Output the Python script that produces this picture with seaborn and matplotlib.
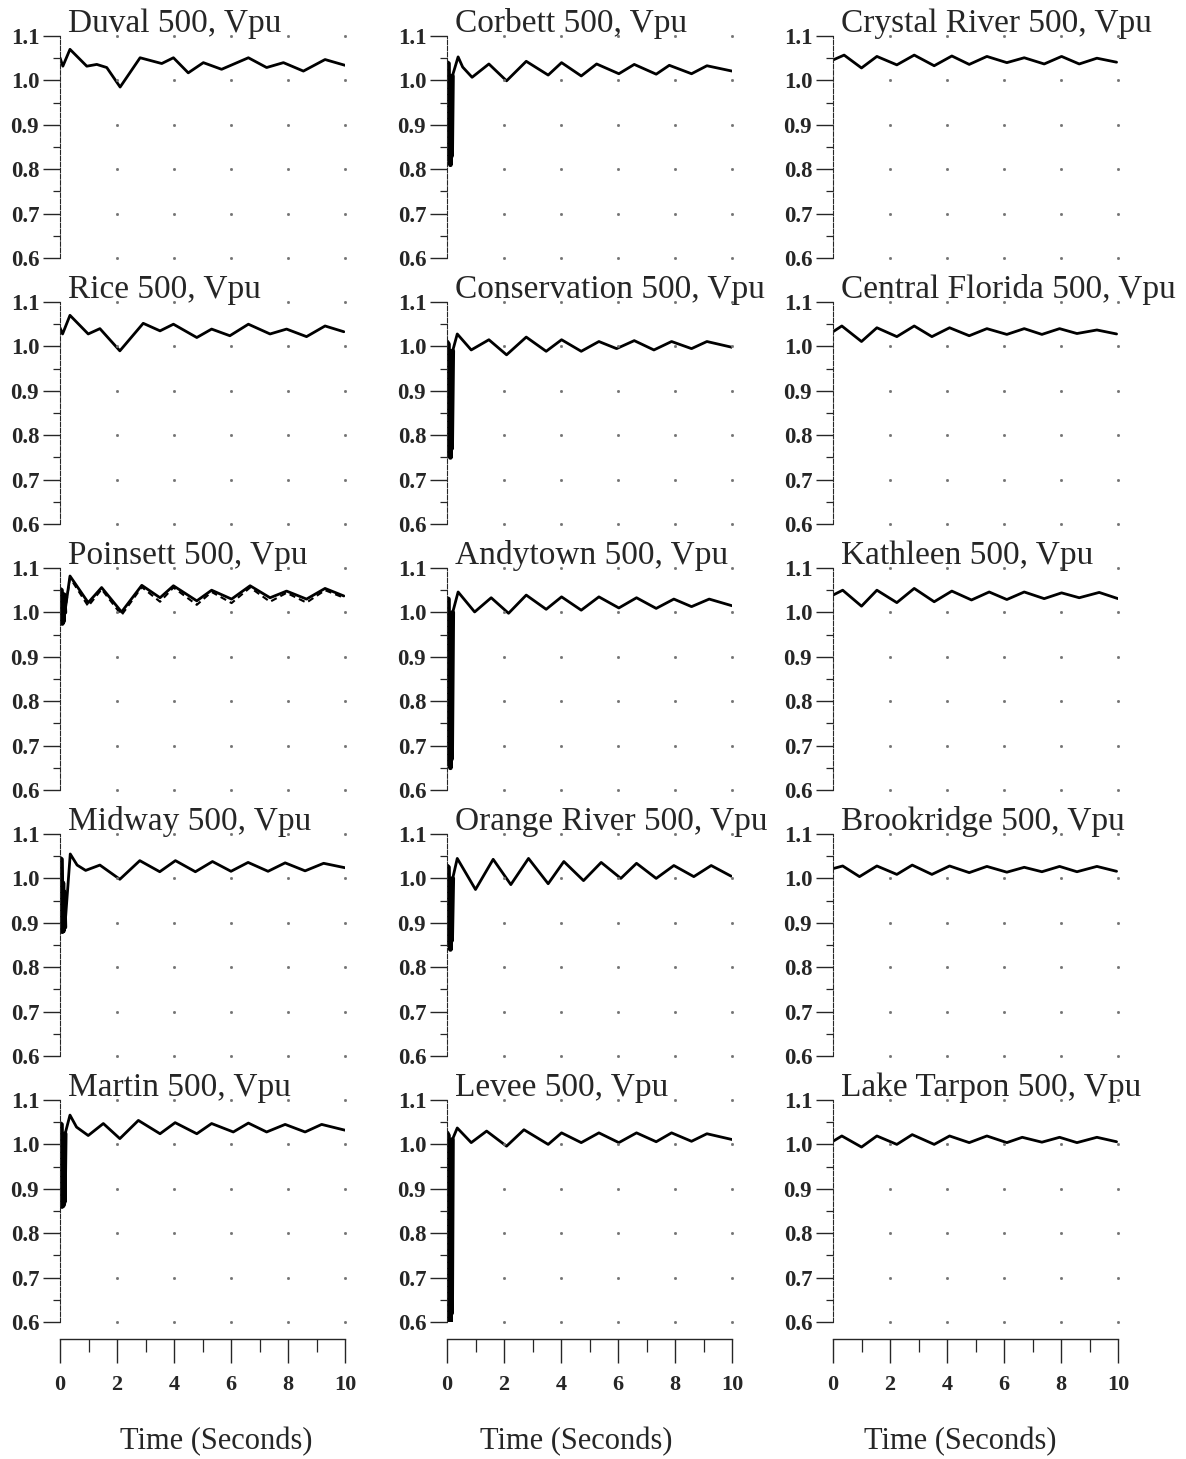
import numpy as np
import pandas as pd
import seaborn as sns
import matplotlib
matplotlib.use("Agg")
import matplotlib.pyplot as plt

# voltage traces (time in s, voltage in pu)
DUVAL_T = [0, 0.1, 0.35, 0.94, 1.29, 1.64, 2.11, 2.81, 3.57, 3.98, 4.5, 5.03, 5.67, 6.61, 7.25, 7.84, 8.54, 9.3, 10.0]
DUVAL_V = [1.051, 1.032, 1.07, 1.032, 1.036, 1.029, 0.985, 1.051, 1.038, 1.051, 1.017, 1.04, 1.025, 1.051, 1.029, 1.04, 1.021, 1.047, 1.034]

RICE_T = [0, 0.09, 0.35, 0.99, 1.4, 2.1, 2.92, 3.51, 3.98, 4.8, 5.32, 5.96, 6.61, 7.37, 7.95, 8.65, 9.3, 9.96]
RICE_V = [1.042, 1.028, 1.07, 1.028, 1.04, 0.99, 1.052, 1.035, 1.05, 1.02, 1.039, 1.024, 1.05, 1.028, 1.039, 1.022, 1.046, 1.033]

POINSETT_T = [0, 0.05, 0.08, 0.1, 0.12, 0.14, 0.17, 0.35, 0.99, 1.46, 2.16, 2.87, 3.51, 3.98, 4.8, 5.32, 6.02, 6.67, 7.37, 7.95, 8.65, 9.3, 9.96]
POINSETT_V = [1.052, 1.05, 0.975, 1.03, 0.98, 1.04, 1.0, 1.082, 1.022, 1.056, 1.001, 1.061, 1.033, 1.06, 1.026, 1.05, 1.03, 1.06, 1.033, 1.048, 1.03, 1.054, 1.037]
POINSETT_ALT_V = [1.052, 1.05, 0.975, 1.03, 0.98, 1.04, 1.0, 1.078, 1.014, 1.052, 0.994, 1.057, 1.024, 1.056, 1.017, 1.046, 1.021, 1.056, 1.024, 1.044, 1.022, 1.05, 1.033]

MIDWAY_T = [0, 0.05, 0.08, 0.1, 0.12, 0.14, 0.17, 0.36, 0.6, 0.9, 1.4, 2.1, 2.8, 3.5, 4.05, 4.75, 5.35, 6.0, 6.6, 7.3, 7.9, 8.6, 9.25, 10.0]
MIDWAY_V = [1.045, 1.043, 0.88, 0.99, 0.882, 0.97, 0.89, 1.055, 1.03, 1.018, 1.03, 0.998, 1.04, 1.015, 1.04, 1.015, 1.038, 1.016, 1.036, 1.016, 1.035, 1.017, 1.034, 1.024]

MARTIN_T = [0, 0.05, 0.07, 0.09, 0.11, 0.13, 0.15, 0.18, 0.35, 0.58, 0.99, 1.52, 2.1, 2.75, 3.51, 4.04, 4.8, 5.32, 6.08, 6.61, 7.25, 7.9, 8.6, 9.18, 10.0]
MARTIN_V = [1.047, 1.045, 0.86, 1.0, 0.862, 0.98, 0.87, 1.024, 1.066, 1.039, 1.02, 1.047, 1.013, 1.054, 1.024, 1.049, 1.024, 1.047, 1.028, 1.048, 1.028, 1.045, 1.028, 1.045, 1.032]

CORBETT_T = [0, 0.05, 0.08, 0.1, 0.12, 0.14, 0.16, 0.19, 0.39, 0.55, 0.88, 1.47, 2.09, 2.78, 3.55, 4.02, 4.71, 5.25, 6.03, 6.57, 7.34, 7.8, 8.58, 9.12, 10.0]
CORBETT_V = [1.04, 1.038, 0.82, 1.0, 0.81, 0.98, 0.83, 1.01, 1.053, 1.03, 1.007, 1.037, 0.999, 1.043, 1.012, 1.04, 1.01, 1.037, 1.015, 1.036, 1.014, 1.034, 1.015, 1.033, 1.021]

CONSERVATION_T = [0, 0.05, 0.08, 0.1, 0.12, 0.14, 0.16, 0.2, 0.36, 0.85, 1.47, 2.09, 2.78, 3.48, 4.02, 4.71, 5.33, 5.95, 6.57, 7.26, 7.88, 8.58, 9.12, 10.0]
CONSERVATION_V = [1.01, 1.005, 0.76, 0.95, 0.75, 0.9, 0.77, 0.99, 1.028, 0.992, 1.015, 0.981, 1.021, 0.989, 1.015, 0.989, 1.011, 0.995, 1.013, 0.992, 1.011, 0.995, 1.011, 0.998]

ANDYTOWN_T = [0, 0.05, 0.08, 0.1, 0.12, 0.14, 0.16, 0.2, 0.39, 0.97, 1.55, 2.16, 2.78, 3.48, 4.02, 4.71, 5.33, 6.03, 6.65, 7.34, 7.96, 8.58, 9.2, 10.0]
ANDYTOWN_V = [1.031, 1.03, 0.66, 0.9, 0.65, 0.85, 0.67, 1.0, 1.046, 1.001, 1.033, 0.998, 1.039, 1.007, 1.035, 1.005, 1.035, 1.01, 1.033, 1.009, 1.03, 1.013, 1.03, 1.015]

ORANGE_T = [0, 0.05, 0.08, 0.1, 0.12, 0.14, 0.16, 0.2, 0.36, 1.0, 1.62, 2.24, 2.86, 3.55, 4.1, 4.79, 5.41, 6.1, 6.65, 7.34, 7.96, 8.66, 9.27, 9.97]
ORANGE_V = [1.028, 1.025, 0.85, 0.95, 0.84, 0.93, 0.86, 1.0, 1.045, 0.975, 1.043, 0.986, 1.045, 0.988, 1.038, 0.995, 1.036, 1.0, 1.034, 1.0, 1.029, 1.004, 1.029, 1.005]

LEVEE_T = [0, 0.05, 0.08, 0.1, 0.12, 0.14, 0.16, 0.19, 0.36, 0.85, 1.39, 2.09, 2.7, 3.55, 4.02, 4.71, 5.33, 6.03, 6.65, 7.34, 7.88, 8.58, 9.12, 10.0]
LEVEE_V = [1.026, 1.02, 0.6, 0.85, 0.59, 0.8, 0.62, 1.011, 1.037, 1.004, 1.03, 0.996, 1.033, 1.0, 1.026, 1.004, 1.026, 1.004, 1.026, 1.006, 1.026, 1.007, 1.024, 1.011]

CRYSTAL_T = [0, 0.39, 1.0, 1.54, 2.24, 2.85, 3.55, 4.17, 4.78, 5.4, 6.1, 6.71, 7.41, 8.02, 8.64, 9.26, 9.95]
CRYSTAL_V = [1.046, 1.057, 1.028, 1.054, 1.035, 1.057, 1.033, 1.055, 1.036, 1.054, 1.04, 1.051, 1.037, 1.054, 1.037, 1.05, 1.041]

CENTRAL_T = [0, 0.31, 1.0, 1.54, 2.24, 2.85, 3.47, 4.09, 4.78, 5.4, 6.1, 6.71, 7.33, 7.95, 8.56, 9.26, 9.95]
CENTRAL_V = [1.033, 1.046, 1.011, 1.042, 1.022, 1.046, 1.022, 1.042, 1.024, 1.04, 1.027, 1.04, 1.027, 1.04, 1.029, 1.037, 1.028]

KATHLEEN_T = [0, 0.34, 1.0, 1.54, 2.24, 2.85, 3.55, 4.17, 4.86, 5.48, 6.1, 6.71, 7.41, 8.02, 8.64, 9.34, 10.0]
KATHLEEN_V = [1.039, 1.05, 1.014, 1.05, 1.022, 1.054, 1.024, 1.048, 1.028, 1.046, 1.029, 1.046, 1.031, 1.044, 1.033, 1.045, 1.031]

BROOKRIDGE_T = [0, 0.34, 0.93, 1.54, 2.24, 2.78, 3.47, 4.09, 4.78, 5.4, 6.1, 6.71, 7.33, 7.95, 8.56, 9.26, 9.95]
BROOKRIDGE_V = [1.022, 1.028, 1.004, 1.028, 1.009, 1.03, 1.009, 1.028, 1.013, 1.027, 1.014, 1.025, 1.015, 1.027, 1.015, 1.027, 1.016]

TARPON_T = [0, 0.31, 1.0, 1.54, 2.24, 2.78, 3.55, 4.09, 4.78, 5.4, 6.1, 6.64, 7.33, 7.95, 8.56, 9.26, 9.95]
TARPON_V = [1.007, 1.019, 0.994, 1.019, 1.0, 1.022, 1.0, 1.019, 1.004, 1.019, 1.004, 1.016, 1.005, 1.016, 1.004, 1.016, 1.006]

# panel titles, column by column
TITLES = [
    ["Duval 500, Vpu", "Rice 500, Vpu", "Poinsett 500, Vpu", "Midway 500, Vpu", "Martin 500, Vpu"],
    ["Corbett 500, Vpu", "Conservation 500, Vpu", "Andytown 500, Vpu", "Orange River 500, Vpu", "Levee 500, Vpu"],
    ["Crystal River 500, Vpu", "Central Florida 500, Vpu", "Kathleen 500, Vpu", "Brookridge 500, Vpu", "Lake Tarpon 500, Vpu"],
]
SERIES = [
    [(DUVAL_T, DUVAL_V), (RICE_T, RICE_V), (POINSETT_T, POINSETT_V), (MIDWAY_T, MIDWAY_V), (MARTIN_T, MARTIN_V)],
    [(CORBETT_T, CORBETT_V), (CONSERVATION_T, CONSERVATION_V), (ANDYTOWN_T, ANDYTOWN_V), (ORANGE_T, ORANGE_V), (LEVEE_T, LEVEE_V)],
    [(CRYSTAL_T, CRYSTAL_V), (CENTRAL_T, CENTRAL_V), (KATHLEEN_T, KATHLEEN_V), (BROOKRIDGE_T, BROOKRIDGE_V), (TARPON_T, TARPON_V)],
]

Y_MAJOR = [0.6, 0.7, 0.8, 0.9, 1.0, 1.1]
Y_MINOR = [0.65, 0.75, 0.85, 0.95, 1.05]
X_MAJOR = [0, 2, 4, 6, 8, 10]
X_MINOR = [1, 3, 5, 7, 9]
XLABEL = "Time (Seconds)"
FAULT_END = 0.2  # the fast switching transient right after t=0 is drawn as a heavy bar

sns.set_style("white")
plt.rcParams['font.family'] = ['Liberation Serif', 'DejaVu Serif']

W, H = 1186, 1459
fig = plt.figure(figsize=(W / 100, H / 100), dpi=100)

col_left = [60, 447, 833]
row_top = [36, 302, 568, 834, 1100]
ax_w, ax_h = 285, 222
label_x = [216, 576, 960]

for c in range(3):
    for r in range(5):
        left, top = col_left[c], row_top[r]
        ax = fig.add_axes([left / W, 1 - (top + ax_h) / H, ax_w / W, ax_h / H])
        ax.set_facecolor('none')
        t, v = SERIES[c][r]
        df = pd.DataFrame({'t': t, 'v': v})
        if TITLES[c][r].startswith("Poinsett"):
            alt = pd.DataFrame({'t': t, 'v': POINSETT_ALT_V})
            sns.lineplot(data=alt, x='t', y='v', ax=ax, color='k', lw=1.5,
                         linestyle=(0, (3, 2)), sort=False, estimator=None)
        sns.lineplot(data=df, x='t', y='v', ax=ax, color='k', lw=2.0,
                     sort=False, estimator=None, solid_joinstyle='round')
        # heavier stroke over the transient part
        fault = df[df['t'] <= FAULT_END]
        if len(fault) > 3:
            sns.lineplot(data=fault, x='t', y='v', ax=ax, color='k', lw=3.4,
                         sort=False, estimator=None)
        ax.set_xlim(0, 10)
        ax.set_ylim(0.6, 1.1)

        # dotted grid: single dots at the tick crossings
        gx, gy = np.meshgrid(X_MAJOR[1:], Y_MAJOR)
        ax.plot(gx.ravel(), gy.ravel(), ls='', marker='s', ms=1.0, color='0.45', clip_on=False)

        ax.set_yticks(Y_MAJOR)
        ax.set_yticklabels([f"{y:.1f}" for y in Y_MAJOR])
        ax.set_yticks(Y_MINOR, minor=True)
        ax.tick_params(axis='y', which='major', direction='out', length=12, width=1.0,
                       pad=3, labelsize=16.5, left=True)
        ax.tick_params(axis='y', which='minor', direction='out', length=5, width=0.9, left=True)
        for lab in ax.get_yticklabels():
            lab.set_fontweight('bold')

        for side in ['top', 'right']:
            ax.spines[side].set_visible(False)
        ax.spines['left'].set_linewidth(0.8)
        ax.spines['left'].set_linestyle((0, (4, 1.5)))
        ax.set_xlabel('')
        ax.set_ylabel('')

        if r == 4:
            ax.spines['bottom'].set_position(('outward', 12))
            ax.spines['bottom'].set_linewidth(1.0)
            ax.set_xticks(X_MAJOR)
            ax.set_xticklabels([str(x) for x in X_MAJOR])
            ax.set_xticks(X_MINOR, minor=True)
            ax.tick_params(axis='x', which='major', direction='out', length=17, width=1.0,
                           pad=9, labelsize=16, bottom=True)
            ax.tick_params(axis='x', which='minor', direction='out', length=9, width=0.9, bottom=True)
            for lab in ax.get_xticklabels():
                lab.set_fontweight('bold')
        else:
            ax.spines['bottom'].set_visible(False)
            ax.set_xticks([])

        ax.annotate(TITLES[c][r], xy=(0, 1), xycoords='axes fraction', xytext=(6, 3),
                    textcoords='offset points', ha='left', va='baseline', fontsize=24)

    fig.text(label_x[c] / W, 1 - 1442 / H, XLABEL, ha='center', va='center', fontsize=22)

plt.savefig("out.png", dpi=100, facecolor='white')
